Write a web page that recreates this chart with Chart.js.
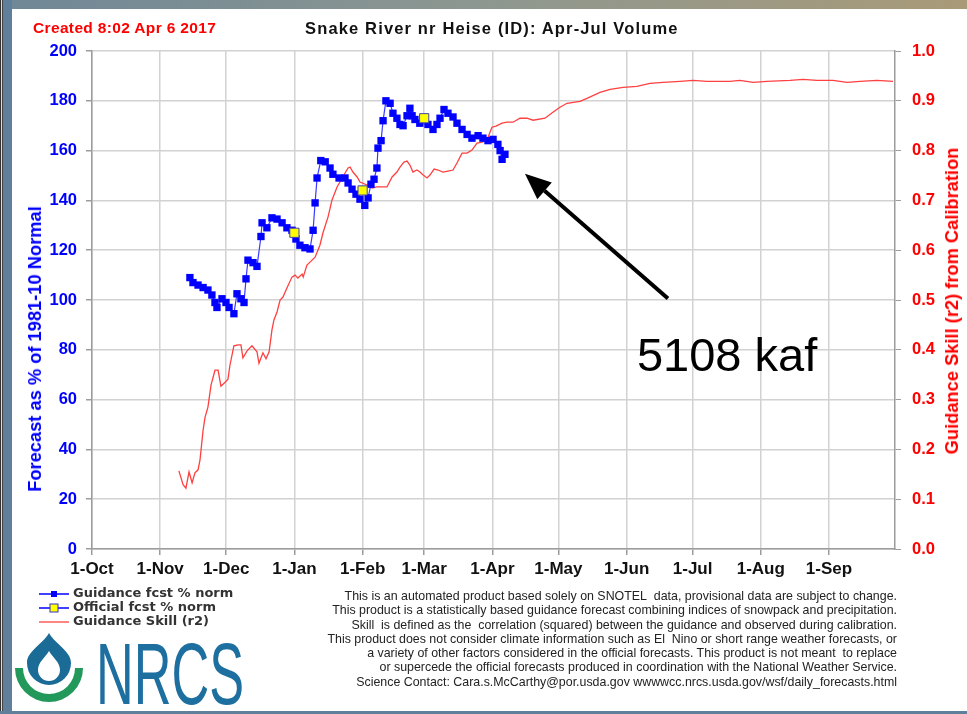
<!DOCTYPE html>
<html>
<head>
<meta charset="utf-8">
<script src="https://cdn.jsdelivr.net/npm/chart.js@4.4.1/dist/chart.umd.min.js"></script>
<style>
  html, body { margin: 0; padding: 0; background: #fff; }
  #page { position: relative; width: 967px; height: 714px; overflow: hidden; background: #fff; font-family: "Liberation Sans", Arial, sans-serif; }
  #wrap { position: absolute; left: 0; top: 0; width: 967px; height: 714px; }
  .frame-left { position: absolute; left: 0; top: 0; width: 12px; height: 714px;
    background: linear-gradient(to right, #333 0, #333 1px, #ddd 1px, #ddd 2px, #444 2px, #444 3px, #5f7f9a 3px, #5f7f9a 12px); }
  .frame-top { position: absolute; left: 0; top: 0; width: 967px; height: 9px;
    background: linear-gradient(to right, #6f8797, #8d9790 50%, #a99a78); }
  .frame-bottom { position: absolute; left: 0; top: 711px; width: 967px; height: 3px; background: #5f7f9a; }
  .txt { position: absolute; white-space: nowrap; }
  #created { left: 33px; top: 19px; color: #ff0000; font-weight: bold; font-size: 15.5px; letter-spacing: 0.35px; }
  #title { left: 305px; top: 19px; color: #111; font-weight: bold; font-size: 16.5px; letter-spacing: 1.15px; }
  .ytitle { font-weight: bold; font-size: 18.3px; transform: translate(-50%, -50%) rotate(-90deg); }
  #ytl { left: 35px; top: 349px; color: #0000ff; }
  #ytr { left: 952px; top: 301px; color: #ff0000; }
  #legend { position: absolute; left: 38px; top: 586px; font-family: "DejaVu Sans", Verdana, sans-serif; font-weight: bold; font-size: 13px; color: #333; }
  #legend div { height: 14px; line-height: 14px; white-space: nowrap; }
  #legend svg { vertical-align: middle; margin-right: 3px; }
  #note { position: absolute; right: 70px; top: 589px; text-align: right; font-size: 12.4px; line-height: 14.3px; color: #222; }
</style>
</head>
<body>
<div id="page">
  <div id="wrap"><canvas id="chart"></canvas></div>
  <div class="frame-top"></div>
  <div class="frame-left"></div>
  <div class="frame-bottom"></div>
  <div class="txt" id="created">Created 8:02 Apr 6 2017</div>
  <div class="txt" id="title">Snake River nr Heise (ID): Apr-Jul Volume</div>
  <div class="txt ytitle" id="ytl">Forecast as % of 1981-10 Normal</div>
  <div class="txt ytitle" id="ytr">Guidance Skill (r2) from Calibration</div>
  <div id="legend">
    <div><svg width="32" height="10"><line x1="1" y1="5" x2="31" y2="5" stroke="#0000ff" stroke-width="1.5"/><rect x="13" y="2" width="6" height="6" fill="#0000ff"/></svg>Guidance fcst % norm</div>
    <div><svg width="32" height="12"><line x1="1" y1="6" x2="31" y2="6" stroke="#0000ff" stroke-width="1.5"/><rect x="12" y="2" width="8" height="8" fill="#ffff00" stroke="#3333cc" stroke-width="1"/></svg>Official fcst % norm</div>
    <div><svg width="32" height="10"><line x1="1" y1="5" x2="31" y2="5" stroke="#ff3333" stroke-width="1.2"/></svg>Guidance Skill (r2)</div>
  </div>
  <div id="note">
    This is an automated product based solely on SNOTEL&nbsp; data, provisional data are subject to change.<br>
    This product is a statistically based guidance forecast combining indices of snowpack and precipitation.<br>
    Skill&nbsp; is defined as the&nbsp; correlation (squared) between the guidance and observed during calibration.<br>
    This product does not consider climate information such as El&nbsp; Nino or short range weather forecasts, or<br>
    a variety of other factors considered in the official forecasts. This product is not meant&nbsp; to replace<br>
    or supercede the official forecasts produced in coordination with the National Weather Service.<br>
    Science Contact: Cara.s.McCarthy@por.usda.gov wwwwcc.nrcs.usda.gov/wsf/daily_forecasts.html
  </div>
  <svg style="position:absolute;left:0;top:620px" width="260" height="94">
    <g transform="translate(0,-620)">
      <path d="M49,633 C56,645 71,651 71,663 A22,22 0 0 1 27,663 C27,651 42,645 49,633 Z" fill="#1b6b97"/>
      <path d="M49,651 C53,658 60,662 60,670 A11,11 0 0 1 38,670 C38,662 45,658 49,651 Z" fill="#fff"/>
      <path d="M15,668 A34,34 0 0 0 83,668 L75,668 A26,26 0 0 1 23,668 Z" fill="#22985a"/>
      <text x="96" y="704" font-family="Liberation Sans Narrow, Liberation Sans, Arial" font-size="88" fill="#1d6fa0" textLength="148" lengthAdjust="spacingAndGlyphs">NRCS</text>
    </g>
  </svg>
</div>

<script>
// x values are days since 1-Oct (water year)
const monthDays = [0, 31, 61, 92, 123, 151, 182, 212, 243, 273, 304, 335];
const monthLabels = ['1-Oct', '1-Nov', '1-Dec', '1-Jan', '1-Feb', '1-Mar', '1-Apr', '1-May', '1-Jun', '1-Jul', '1-Aug', '1-Sep'];

// Guidance fcst % norm
const guidanceDay = [44.5, 45.9, 48.2, 50.5, 52.7, 54.5, 55.9, 56.8, 59.1, 60.9, 62.3, 64.5, 65.9, 67.7, 69.1, 70, 70.9, 73.2, 75, 76.8,
  77.3, 79.5, 81.8, 84.1, 86.4, 88.6, 90.9, 92.7, 94.5, 96.8, 99.1, 100.5, 101.4, 102.3, 104, 106, 108.2, 109.5, 112.3, 115,
  116.4, 118.2, 120, 121.8, 124, 125.5, 126.8, 128.2, 129.5, 130, 131.4, 132.3, 133.6, 135.5, 136.8, 138.6, 140, 141.4, 143.2, 144.5,
  145.5, 146.8, 149, 152.7, 155, 156.8, 158.2, 160, 161.8, 164.1, 165.9, 168.2, 170.5, 172.7, 175.5, 177.7, 180, 182.3, 184.5, 185.5,
  186.4, 187.7];
const guidanceVal = [109, 107, 106, 105, 104, 102, 99, 97, 100.5, 99, 97, 94.5, 102.5, 100.5, 99, 108.5, 116, 115, 113.5, 125.5,
  131, 129, 133, 132.5, 131, 129, 128, 124.5, 122, 121, 120.5, 128, 139, 149, 156, 155.5, 153, 150.5, 149, 149,
  147, 144.5, 142.5, 140.5, 138, 141, 146.5, 148.5, 153, 161, 164, 172, 180, 179, 175, 173, 170.5, 170, 174, 177,
  174, 172.5, 171, 170.5, 168.5, 170.5, 173, 176.5, 175, 173.5, 171, 168.5, 166.5, 165, 166, 165, 164, 164.5, 162.5, 160,
  156.5, 158.5];

// Official fcst % norm
const officialDay = [92, 123, 151];
const officialVal = [127, 144, 173];

// Guidance Skill (r2)
const skillDay = [39.5, 41.4, 42.7, 44.1, 45.5, 46.8, 48.2, 49.1, 50.5, 51.4, 52.7, 54.1, 55.9, 57.3, 58.6, 60.5, 61.8, 62.7, 64.5, 66.4,
  67.7, 68.6, 70.5, 72.7, 75, 75.9, 77.7, 79.1, 80.5, 81.8, 82.7, 84.1, 85.5, 86.8, 88.6, 90.9, 92.3, 93.6, 95.5, 96,
  97.7, 99.1, 101.4, 103.6, 105, 107.3, 109.1, 111.4, 112.7, 114.5, 116.4, 117.3, 118.6, 120.5, 121.8, 125, 127.3, 129.5, 131.8, 134.1,
  136.4, 138.6, 140, 141.8, 143.2, 144.5, 145.9, 147.7, 149.1, 150.5, 152.3, 153.6, 155.5, 157.3, 159.5, 161.8, 164.1, 165.9, 168.2, 170.5,
  172.7, 175, 177.3, 179.5, 181.8, 183.6, 186.4, 188.6, 191.4, 194.5, 197.7, 200.5, 205.9, 209.5, 212.7, 215.9, 221.8, 225, 230.9, 235.5,
  241.4, 247.7, 253.6, 259.5, 267.3, 273.2, 279.5, 290, 294.5, 300.5, 306.8, 317.3, 323.2, 329.5, 336.8, 343.2, 349.1, 356.8, 364.1];
const skillVal = [0.157, 0.129, 0.122, 0.155, 0.133, 0.153, 0.159, 0.179, 0.239, 0.265, 0.285, 0.329, 0.359, 0.359, 0.327, 0.335, 0.341, 0.369, 0.408, 0.41,
  0.41, 0.384, 0.398, 0.408, 0.396, 0.373, 0.394, 0.382, 0.396, 0.44, 0.46, 0.476, 0.5, 0.506, 0.524, 0.546, 0.55, 0.544, 0.552, 0.546,
  0.57, 0.576, 0.586, 0.61, 0.635, 0.667, 0.701, 0.727, 0.737, 0.751, 0.765, 0.767, 0.757, 0.747, 0.737, 0.731, 0.725, 0.727, 0.727, 0.727,
  0.747, 0.757, 0.767, 0.777, 0.779, 0.771, 0.757, 0.761, 0.757, 0.751, 0.745, 0.751, 0.763, 0.761, 0.757, 0.759, 0.761, 0.775, 0.795, 0.795,
  0.801, 0.815, 0.817, 0.821, 0.847, 0.849, 0.855, 0.857, 0.857, 0.865, 0.865, 0.861, 0.865, 0.877, 0.887, 0.895, 0.899, 0.905, 0.917, 0.923,
  0.927, 0.929, 0.935, 0.937, 0.939, 0.941, 0.939, 0.939, 0.941, 0.937, 0.939, 0.941, 0.943, 0.941, 0.941, 0.937, 0.939, 0.941, 0.939];

// "5108 kaf" annotation: arrow tail / tip in data units
const arrowFrom = [261.8, 100.6];
const arrowTo = [196.8, 150.7];
const noteText = '5108 kaf';
const notePos = [247.7, 71.5];

function pts(xs, ys) {
  return xs.map((x, i) => ({ x: x, y: ys[i] }));
}

// 화살표와 주석 텍스트
const annotate = {
  id: 'annotate',
  afterDraw(chart) {
    const ctx = chart.ctx;
    const sx = chart.scales.x, sy = chart.scales.y;
    const x1 = sx.getPixelForValue(arrowFrom[0]), y1 = sy.getPixelForValue(arrowFrom[1]);
    const x2 = sx.getPixelForValue(arrowTo[0]), y2 = sy.getPixelForValue(arrowTo[1]);
    const ang = Math.atan2(y2 - y1, x2 - x1);
    const head = 26, half = 11;
    const bx = x2 - head * Math.cos(ang), by = y2 - head * Math.sin(ang);
    ctx.save();
    ctx.strokeStyle = '#000';
    ctx.fillStyle = '#000';
    ctx.lineWidth = 4;
    ctx.beginPath();
    ctx.moveTo(x1, y1);
    ctx.lineTo(bx, by);
    ctx.stroke();
    ctx.beginPath();
    ctx.moveTo(x2, y2);
    ctx.lineTo(bx + half * Math.sin(ang), by - half * Math.cos(ang));
    ctx.lineTo(bx - half * Math.sin(ang), by + half * Math.cos(ang));
    ctx.closePath();
    ctx.fill();
    ctx.font = '47px "Liberation Sans", Arial, sans-serif';
    ctx.textBaseline = 'alphabetic';
    ctx.fillText(noteText, sx.getPixelForValue(notePos[0]), sy.getPixelForValue(notePos[1]));
    ctx.restore();
  }
};

const gridColor = '#d2d2d2';
const axisColor = '#9c9c9c';

new Chart(document.getElementById('chart'), {
  type: 'line',
  data: {
    datasets: [
      {
        label: 'Official fcst % norm',
        data: pts(officialDay, officialVal),
        yAxisID: 'y',
        showLine: false,
        pointStyle: 'rect',
        pointRadius: 6.5,
        pointBackgroundColor: '#ffff00',
        pointBorderColor: '#4040b0',
        pointBorderWidth: 1,
        order: 0
      },
      {
        label: 'Guidance fcst % norm',
        data: pts(guidanceDay, guidanceVal),
        yAxisID: 'y',
        borderColor: '#3a3aff',
        borderWidth: 1.2,
        pointStyle: 'rect',
        pointRadius: 5.2,
        pointBackgroundColor: '#0000ff',
        pointBorderColor: '#0000ff',
        pointBorderWidth: 0,
        tension: 0,
        order: 1
      },
      {
        label: 'Guidance Skill (r2)',
        data: pts(skillDay, skillVal),
        yAxisID: 'y1',
        borderColor: '#ff4040',
        borderWidth: 1.3,
        pointRadius: 0,
        tension: 0,
        order: 2
      }
    ]
  },
  options: {
    responsive: true,
    maintainAspectRatio: false,
    animation: false,
    layout: { padding: { top: 51, bottom: 125, left: 0, right: 0 } },
    plugins: { legend: { display: false }, tooltip: { enabled: false } },
    scales: {
      x: {
        type: 'linear',
        min: 0,
        max: 365,
        afterBuildTicks: (scale) => { scale.ticks = monthDays.map(v => ({ value: v })); },
        afterFit: (scale) => { scale.height = 40; },
        ticks: {
          autoSkip: false,
          maxRotation: 0,
          padding: 4,
          color: '#111',
          font: { family: '"Liberation Sans", Arial', size: 17, weight: 'bold' },
          callback: (v) => monthLabels[monthDays.indexOf(v)]
        },
        grid: { color: gridColor, lineWidth: 1.5, tickColor: axisColor, tickLength: 6 },
        border: { color: axisColor, width: 1.5 }
      },
      y: {
        position: 'left',
        min: 0,
        max: 200,
        afterFit: (scale) => { scale.width = 92; },
        ticks: {
          stepSize: 20,
          padding: 9,
          color: '#0000ff',
          font: { family: '"Liberation Sans", Arial', size: 16.5, weight: 'bold' }
        },
        grid: { color: gridColor, lineWidth: 1.5, tickColor: axisColor, tickLength: 6 },
        border: { color: axisColor, width: 1.5 }
      },
      y1: {
        position: 'right',
        min: 0,
        max: 1,
        afterFit: (scale) => { scale.width = 72; },
        ticks: {
          stepSize: 0.1,
          padding: 11,
          color: '#ff0000',
          font: { family: '"Liberation Sans", Arial', size: 16.5, weight: 'bold' },
          callback: (v) => v.toFixed(1)
        },
        grid: { drawOnChartArea: false, tickColor: axisColor, tickLength: 6 },
        border: { color: axisColor, width: 1.5 }
      }
    }
  },
  plugins: [annotate]
});
</script>
</body>
</html>
